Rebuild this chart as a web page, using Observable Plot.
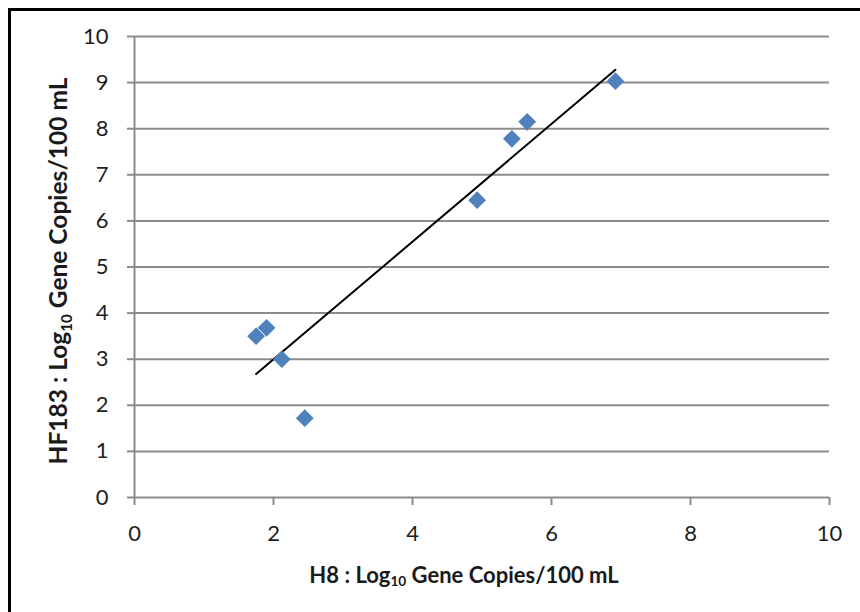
<!DOCTYPE html>
<html>
<head>
<meta charset="utf-8">
<script src="https://cdn.jsdelivr.net/npm/d3@7"></script>
<script src="https://cdn.jsdelivr.net/npm/@observablehq/plot@0.6"></script>
<style>
  html, body { margin: 0; padding: 0; background: #fff; overflow: hidden; }
  #wrap { position: relative; width: 860px; height: 612px; }
  #border { position: absolute; left: 8px; top: 8px; width: 900px; height: 700px;
            border-top: 3px solid #000; border-left: 3px solid #000; pointer-events: none; }
</style>
</head>
<body>
<div id="wrap"><div id="border"></div></div>
<script>
// Data
const h8    = [1.75, 1.90, 2.12, 2.45, 4.93, 5.43, 5.65, 6.92];
const hf183 = [3.50, 3.68, 3.00, 1.72, 6.45, 7.78, 8.15, 9.03];
const xTicks = [0, 2, 4, 6, 8, 10];
const yTicks = [0, 1, 2, 3, 4, 5, 6, 7, 8, 9, 10];
const xTitle = ["H8 : Log", "10", " Gene Copies/100 mL"];
const yTitle = ["HF183 : Log", "10", " Gene Copies/100 mL"];

const points = h8.map((x, i) => ({x, y: hf183[i]}));

const font = "Lato, 'Open Sans', sans-serif";
const grid = "#8c8c8c";

const chart = Plot.plot({
  width: 860,
  height: 612,
  marginLeft: 134,
  marginRight: 31,
  marginTop: 36,
  marginBottom: 115,
  style: {fontFamily: font, background: "transparent", overflow: "visible"},
  x: {domain: [0, 10], ticks: xTicks},
  y: {domain: [0, 10], ticks: yTicks},
  marks: [
    Plot.ruleY(yTicks, {stroke: grid, strokeWidth: 2}),
    Plot.ruleX([0], {stroke: grid, strokeWidth: 2}),
    Plot.axisY({ticks: yTicks, tickSize: 7, tickPadding: 19, stroke: grid, strokeWidth: 2,
                fill: "#1e1e1e", fontSize: 22, label: null}),
    Plot.axisX({ticks: xTicks, tickSize: 8, tickPadding: 20, stroke: grid, strokeWidth: 2,
                fill: "#1e1e1e", fontSize: 22, label: null}),
    Plot.linearRegressionY(points, {x: "x", y: "y", stroke: "#000", strokeWidth: 2, ci: 0}),
    Plot.dot(points, {x: "x", y: "y", symbol: "diamond2", r: 8, fill: "#4f81bd", stroke: "none"}),
    Plot.text([xTitle.join("")], {frameAnchor: "bottom", textAnchor: "middle", dx: -18, dy: 78,
                lineAnchor: "middle", fontSize: 22, fontWeight: "bold", fill: "#1a1a1a"}),
    Plot.text([yTitle.join("")], {frameAnchor: "left", textAnchor: "middle", dx: -75, dy: 4, rotate: -90,
                lineAnchor: "middle", fontSize: 24.5, fontWeight: "bold", fill: "#1a1a1a"})
  ]
});

// Rebuild the two axis titles with a real subscript "10"
function subscript(parts) {
  const full = parts.join("");
  d3.select(chart).selectAll("text").filter(function () { return this.textContent === full; })
    .each(function () {
      const t = d3.select(this);
      t.text(null);
      t.append("tspan").text(parts[0]);
      t.append("tspan").attr("font-size", "0.62em").attr("dy", "0.28em").text(parts[1]);
      t.append("tspan").attr("dy", "-0.174em").text(parts[2]);
    });
}
subscript(xTitle);
subscript(yTitle);

document.getElementById("wrap").prepend(chart);
</script>
</body>
</html>
